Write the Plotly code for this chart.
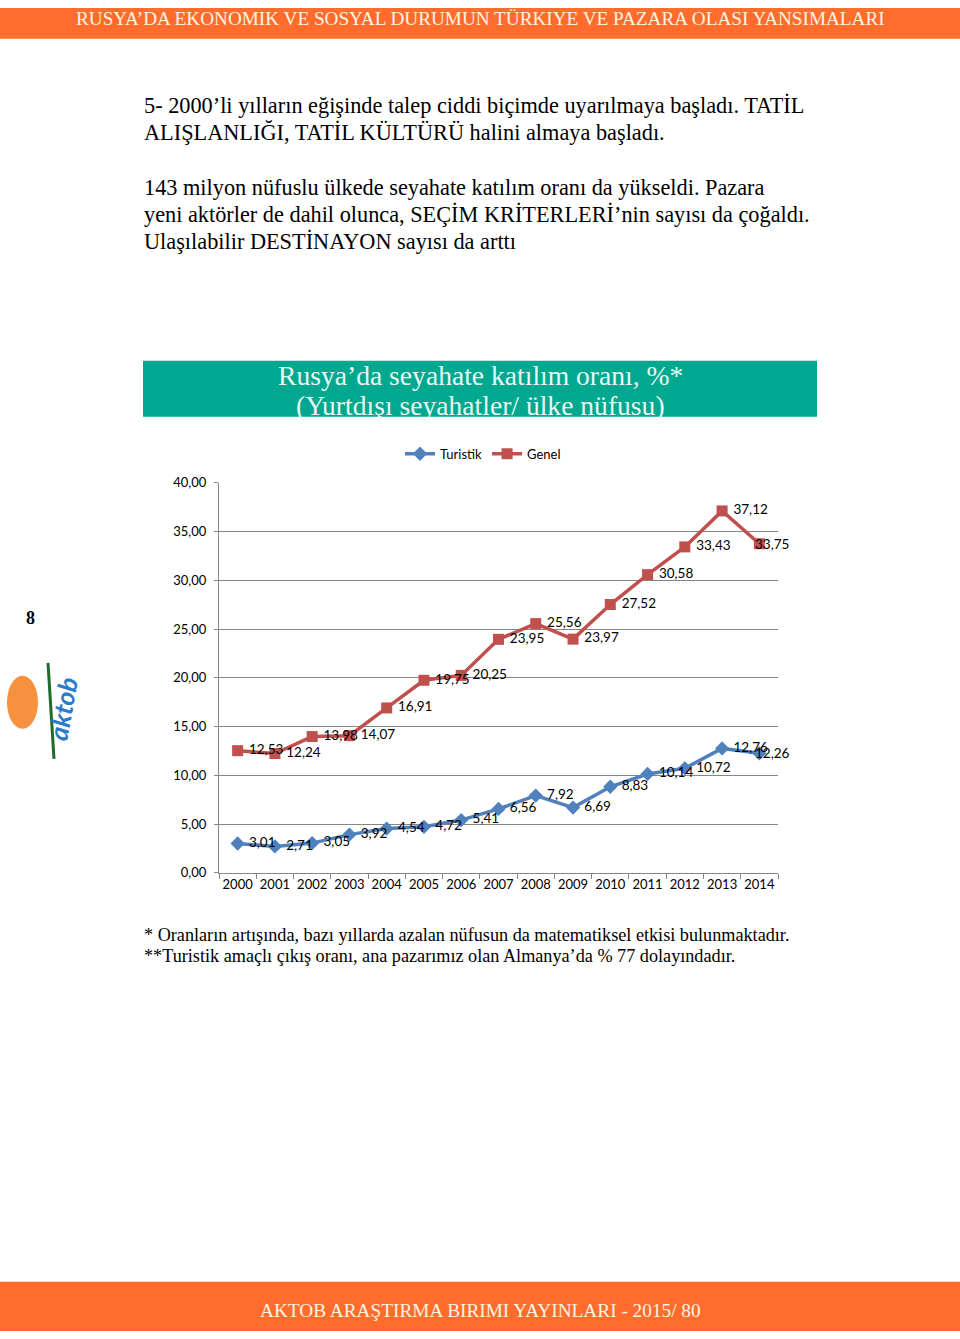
import plotly.graph_objects as go

years = [str(y) for y in range(2000, 2015)]
turistik = [3.01, 2.71, 3.05, 3.92, 4.54, 4.72, 5.41, 6.56, 7.92, 6.69, 8.83, 10.14, 10.72, 12.76, 12.26]
genel = [12.53, 12.24, 13.98, 14.07, 16.91, 19.75, 20.25, 23.95, 25.56, 23.97, 27.52, 30.58, 33.43, 37.12, 33.75]
y_ticks = [0, 5, 10, 15, 20, 25, 30, 35, 40]

def fmt(v):
    return f"{v:.2f}".replace(".", ",")

W, H = 960, 1339
def px(x):
    return x / W
def py(y):
    # compensate the page offset/scale observed in the renderer
    yf = (y - 7.2) / 0.988
    return 1 - yf / H

CHART_FONT = "Lato, 'Open Sans', sans-serif"
SERIF = "'Liberation Serif', 'DejaVu Serif', serif"
NB = "\u00a0"

def labels(vals):
    # last label is drawn as an annotation pulled back inside the chart area (Excel-style)
    return [NB + fmt(v) for v in vals[:-1]] + [""]

fig = go.Figure()
fig.add_trace(go.Scatter(
    x=years, y=turistik, name="Turistik", mode="lines+markers+text",
    line=dict(color="#4F81BD", width=3.5),
    marker=dict(symbol="diamond", size=11, color="#4F81BD"),
    text=labels(turistik), textposition="middle right",
    textfont=dict(family=CHART_FONT, size=13.5, color="#000000"),
    cliponaxis=False,
))
fig.add_trace(go.Scatter(
    x=years, y=genel, name="Genel", mode="lines+markers+text",
    line=dict(color="#C0504D", width=3.5),
    marker=dict(symbol="square", size=11, color="#C0504D"),
    text=labels(genel), textposition="middle right",
    textfont=dict(family=CHART_FONT, size=13.5, color="#000000"),
    cliponaxis=False,
))
last_idx = len(years) - 1
for series in (turistik, genel):
    fig.add_annotation(x=last_idx, y=series[-1], xref="x", yref="y", text=fmt(series[-1]),
                       showarrow=False, xanchor="left", yanchor="middle", xshift=-6,
                       font=dict(family=CHART_FONT, size=13.5, color="#000"))

fig.update_layout(
    width=W, height=H, autosize=False,
    margin=dict(l=0, r=0, t=0, b=0),
    paper_bgcolor="white", plot_bgcolor="white",
    showlegend=True,
    legend=dict(orientation="h", x=px(483), y=py(453), xanchor="center", yanchor="middle",
                font=dict(family=CHART_FONT, size=13, color="#000"),
                itemwidth=30, tracegroupgap=0, bgcolor="rgba(0,0,0,0)"),
    xaxis=dict(domain=[px(219), px(778)], type="category", range=[-0.5, 14.5],
               showgrid=False, showline=True, linecolor="#868686", linewidth=1,
               ticks="outside", tickson="boundaries", ticklen=5, tickcolor="#868686",
               tickangle=0,
               tickfont=dict(family=CHART_FONT, size=13, color="#000"), zeroline=False),
    yaxis=dict(domain=[py(872), py(482)], range=[0, 40],
               tickvals=y_ticks, ticktext=[fmt(v) for v in y_ticks],
               showgrid=True, gridcolor="#868686", gridwidth=1,
               showline=True, linecolor="#868686", linewidth=1,
               ticks="outside", ticklen=4, tickcolor="#868686",
               tickfont=dict(family=CHART_FONT, size=13, color="#000"), zeroline=False,
               ticklabelstandoff=5),
)

shapes = [
    dict(type="rect", xref="paper", yref="paper", x0=0, x1=1, y0=py(38), y1=1,
         fillcolor="#FF6C2C", line=dict(width=0), layer="below"),
    dict(type="rect", xref="paper", yref="paper", x0=0, x1=1, y0=0, y1=py(1281),
         fillcolor="#FF6C2C", line=dict(width=0), layer="below"),
    dict(type="rect", xref="paper", yref="paper", x0=px(143), x1=px(817), y0=py(416), y1=py(360),
         fillcolor="#00A88F", line=dict(width=0), layer="below"),
    dict(type="circle", xref="paper", yref="paper", x0=px(7), x1=px(38), y0=py(728), y1=py(675),
         fillcolor="#F7913D", line=dict(width=0), layer="below"),
    dict(type="line", xref="paper", yref="paper", x0=px(48), x1=px(54), y0=py(662), y1=py(758),
         line=dict(color="#1F6B2A", width=3)),
]
fig.update_layout(shapes=shapes)

def ann(x, y, text, size, color="#000", family=SERIF, xanchor="left", **kw):
    fig.add_annotation(xref="paper", yref="paper", x=px(x), y=py(y), text=text, showarrow=False,
                       xanchor=xanchor, yanchor="middle", align="left",
                       font=dict(family=family, size=size, color=color), **kw)

ann(480, 17.5, "RUSYA’DA EKONOMIK VE SOSYAL DURUMUN TÜRKIYE VE PAZARA OLASI YANSIMALARI", 19.2,
    color="#FFF4E6", xanchor="center")
ann(480, 1310, "AKTOB ARAŞTIRMA BIRIMI YAYINLARI - 2015/ 80", 19.3, color="#FFF4E6", xanchor="center")

para = [
    (105, "5- 2000’li yılların eğişinde talep ciddi biçimde uyarılmaya başladı. TATİL"),
    (132, "ALIŞLANLIĞI, TATİL KÜLTÜRÜ halini almaya başladı."),
    (187, "143 milyon nüfuslu ülkede seyahate katılım oranı da yükseldi. Pazara"),
    (214, "yeni aktörler de dahil olunca, SEÇİM KRİTERLERİ’nin sayısı da çoğaldı."),
    (241, "Ulaşılabilir DESTİNAYON sayısı da arttı"),
]
for y, t in para:
    ann(142, y, t, 22.3)

ann(480, 375, "Rusya’da seyahate katılım oranı, %*", 27.6, color="#EAF7F3", xanchor="center")
ann(480, 405, "(Yurtdışı seyahatler/ ülke nüfusu)", 27.6, color="#EAF7F3", xanchor="center")

ann(142, 934, "* Oranların artışında, bazı yıllarda azalan nüfusun da matematiksel etkisi bulunmaktadır.", 18.2)
ann(142, 955, "**Turistik amaçlı çıkış oranı, ana pazarımız olan Almanya’da % 77 dolayındadır.", 18.2)

ann(30, 617, "<b>8</b>", 18, xanchor="center")
fig.add_annotation(xref="paper", yref="paper", x=px(39), y=py(708), text="<b><i>aktob</i></b>",
                   showarrow=False, textangle=-80, font=dict(family="Lato, sans-serif", size=26, color="#2A7BC8"))

fig.write_html("out.html", config={"displayModeBar": False},
               post_script="document.body.style.margin='0';document.body.style.overflow='hidden';")
